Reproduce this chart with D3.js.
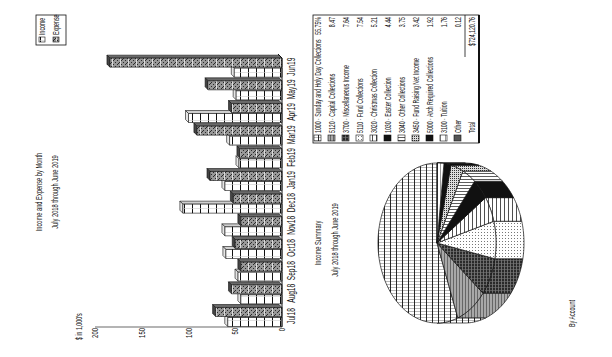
<!DOCTYPE html>
<html>
<head>
<meta charset="utf-8">
<script src="https://cdn.jsdelivr.net/npm/d3@7"></script>
<style>
  body { margin: 0; background: #fff; }
  svg { display: block; }
  text { font-family: "Liberation Sans", Arial, sans-serif; fill: #111; }
</style>
</head>
<body>
<div id="chart"></div>
<script>
// data (values in $1,000's)
const months = ['Jul18', 'Aug18', 'Sep18', 'Oct18', 'Nov18', 'Dec18', 'Jan19', 'Feb19', 'Mar19', 'Apr19', 'May19', 'Jun19'];
const income = [58, 44, 47, 60, 61, 106, 61, 46, 56, 100, 49, 51];
const expense = [71, 54, 44, 50, 44, 52, 77, 45, 91, 54, 79, 184];
const valueTicks = [0, 50, 100, 150, 200];

const accounts = [
   '1000 · Sunday and Holy Day Collections',
   '5120 · Capital Collections',
   '3700 · Miscellaneous Income',
   '5110 · Fund Collections',
   '3020 · Christmas Collection',
   '1030 · Easter Collection',
   '3040 · Other Collections',
   '3450 · Fund Raising Net Income',
   '5000 · Arch Required Collections',
   '3100 · Tuition',
   'Other'
];
const shares = [55.75, 8.47, 7.64, 7.54, 5.21, 4.44, 3.75, 3.42, 1.92, 1.76, 0.12];
const shareLabels = ['55.75%', '8.47', '7.64', '7.54', '5.21', '4.44', '3.75', '3.42', '1.92', '1.76', '0.12'];
const totalLabel = '$724,120.76';

// the page is printed sideways: draw it portrait (357 x 612) and turn it
const svg = d3.select('#chart').append('svg')
   .attr('width', 612)
   .attr('height', 357);

const defs = svg.append('defs');

function pattern(id, w, h, bg, draw) {
   const p = defs.append('pattern')
      .attr('id', id)
      .attr('patternUnits', 'userSpaceOnUse')
      .attr('width', w)
      .attr('height', h);
   p.append('rect').attr('width', w).attr('height', h).attr('fill', bg);
   draw(p);
}
function hline(p, y, w, c, sw) {
   p.append('line').attr('x1', 0).attr('x2', w).attr('y1', y).attr('y2', y).attr('stroke', c).attr('stroke-width', sw);
}
function vline(p, x, h, c, sw) {
   p.append('line').attr('x1', x).attr('x2', x).attr('y1', 0).attr('y2', h).attr('stroke', c).attr('stroke-width', sw);
}
function dot(p, x, y, c) {
   p.append('rect').attr('x', x).attr('y', y).attr('width', 1).attr('height', 1).attr('fill', c);
}

pattern('pInc', 8, 8, '#fff', p => { hline(p, 0.5, 8, '#111', 1); vline(p, 4.5, 8, '#ccc', 0.6); });
pattern('pExp', 8, 8, '#989898', p => {
   [[0,1],[2,3],[4,1],[6,3],[0,5],[2,7],[4,5],[6,7],[1,2],[5,6]].forEach(d => dot(p, d[0], d[1], '#2a2a2a'));
   hline(p, 0.5, 8, '#dcdcdc', 1);
});
pattern('pGrid', 3, 6, '#fff', p => { vline(p, 0.5, 6, '#999', 0.7); hline(p, 0.5, 3, '#111', 0.9); });
pattern('pGray', 3, 3, '#a8a8a8', p => { hline(p, 0.5, 3, '#555', 0.8); });
pattern('pDark', 3, 3, '#2a2a2a', p => { hline(p, 0.5, 3, '#999', 0.6); vline(p, 0.5, 3, '#777', 0.6); });
pattern('pDotW', 3, 3, '#fff', p => { dot(p, 1, 1, '#777'); });
pattern('pLineH', 4, 4, '#fff', p => { hline(p, 0.5, 4, '#222', 0.8); });
pattern('pLineV', 3, 3, '#fff', p => { vline(p, 0.5, 3, '#333', 0.8); });
pattern('pDotB', 2, 2, '#ddd', p => { dot(p, 0, 0, '#333'); });
pattern('pWhite', 5, 5, '#fff', p => { hline(p, 0.5, 5, '#555', 0.6); });

const fills = ['url(#pGrid)', 'url(#pGray)', 'url(#pDark)', 'url(#pDotW)', 'url(#pLineH)', '#111',
   'url(#pLineV)', 'url(#pDotB)', '#111', 'url(#pWhite)', '#555'];

const page = svg.append('g').attr('transform', 'translate(0,357) rotate(-90)');

const SX = 0.6;
function label(sel, x, y, s, size, anchor, sx) {
   return sel.append('text')
      .attr('transform', `translate(${x},${y}) scale(${sx || SX},1)`)
      .attr('text-anchor', anchor || 'start')
      .attr('font-size', size)
      .text(s);
}

// ---------- Income and Expense by Month ----------
label(page, 165, 42, 'Income and Expense by Month', 9.5, 'middle');
label(page, 165, 58, 'July 2018 through June 2019', 9.5, 'middle');

const x = d3.scaleBand().domain(months).range([30, 302]);
const y = d3.scaleLinear().domain([0, 200]).range([282, 95]);

page.append('line')
   .attr('x1', 30).attr('x2', 30)
   .attr('y1', y(0)).attr('y2', y(200))
   .attr('stroke', '#b4b4b4').attr('stroke-width', 2);

valueTicks.forEach(t => {
   label(page, 29, y(t) + 3, t, 8.5, 'end', 0.7);
});
label(page, 17, 82, "$ in 1,000's", 8.5, 'start', 0.62);

const bw = 9, dx = 3, dz = -3;
const bars = page.append('g').attr('stroke', '#111').attr('stroke-width', 0.6).attr('stroke-linejoin', 'round');

function bar3d(x0, v, front, top, side) {
   const yt = y(v), yb = y(0);
   bars.append('path')
      .attr('d', `M${x0 + bw},${yt}L${x0 + bw + dx},${yt + dz}L${x0 + bw + dx},${yb + dz}L${x0 + bw},${yb}Z`)
      .attr('fill', side);
   bars.append('path')
      .attr('d', `M${x0},${yt}L${x0 + dx},${yt + dz}L${x0 + bw + dx},${yt + dz}L${x0 + bw},${yt}Z`)
      .attr('fill', top);
   bars.append('rect')
      .attr('x', x0).attr('y', yt)
      .attr('width', bw).attr('height', yb - yt)
      .attr('fill', front);
}

months.forEach((m, i) => {
   bar3d(x(m) + 0.5, income[i], 'url(#pInc)', '#e6e6e6', '#cfcfcf');
   bar3d(x(m) + 10.5, expense[i], 'url(#pExp)', '#444', '#6a6a6a');
});

page.append('path')
   .attr('d', `M30,${y(0)}L299,${y(0)}L303,${y(0) - 4}`)
   .attr('fill', 'none').attr('stroke', '#111').attr('stroke-width', 1);

months.forEach(m => {
   label(page, x(m) + 11, 295, m, 11, 'middle', 0.6);
});

// legend of the bar chart
const lg = page.append('g');
lg.append('rect').attr('x', 312).attr('y', 36).attr('width', 30).attr('height', 30)
   .attr('fill', '#fff').attr('stroke', '#111').attr('stroke-width', 0.8);
[['Income', 'url(#pInc)'], ['Expense', 'url(#pExp)']].forEach((d, i) => {
   lg.append('rect').attr('x', 315).attr('y', 39 + i * 14).attr('width', 5).attr('height', 6)
      .attr('fill', d[1]).attr('stroke', '#111').attr('stroke-width', 0.6);
   label(lg, 322, 45 + i * 14, d[0], 8.5, 'start', 0.62);
});

// ---------- Income Summary ----------
label(page, 114, 321, 'Income Summary', 9.5, 'middle');
label(page, 117, 338, 'July 2018 through June 2019', 9.5, 'middle');

const pcx = 114, pcy = 437, prx = 80, pry = 59, depth = 28;
function ell(a, off) {
   return [pcx + prx * Math.sin(a), pcy - pry * Math.cos(a) + (off || 0)];
}
function sweep(a0, a1, off) {
   const n = Math.max(2, Math.ceil(Math.abs(a0 - a1) / 0.03));
   return d3.range(n + 1).map(k => ell(a0 + (a1 - a0) * k / n, off));
}

const pie = d3.pie().value(d => d).sort(null)
   .startAngle(Math.PI / 2)
   .endAngle(Math.PI / 2 - 2 * Math.PI);
const arcs = pie(shares);
const line = d3.line();
const pg = page.append('g').attr('stroke', '#111').attr('stroke-width', 0.7).attr('stroke-linejoin', 'round');

// side wall of the front half
const frontA = -Math.PI / 2, frontB = -3 * Math.PI / 2;
arcs.forEach((a, i) => {
   const b0 = Math.min(a.startAngle, frontA), b1 = Math.max(a.endAngle, frontB);
   if (b0 <= b1) return;
   const pts = sweep(b0, b1, 0).concat(sweep(b1, b0, depth));
   pg.append('path').attr('d', line(pts) + 'Z').attr('fill', fills[i]);
});
// top face
arcs.forEach((a, i) => {
   const pts = [[pcx, pcy]].concat(sweep(a.startAngle, a.endAngle, 0));
   pg.append('path').attr('d', line(pts) + 'Z').attr('fill', fills[i]);
});

// legend table
const tb = page.append('g');
tb.append('rect').attr('x', 214).attr('y', 313).attr('width', 128).attr('height', 166)
   .attr('fill', '#fff').attr('stroke', '#111').attr('stroke-width', 0.8);
tb.append('line').attr('x1', 214).attr('x2', 342).attr('y1', 479).attr('y2', 479)
   .attr('stroke', '#111').attr('stroke-width', 2);
tb.append('line').attr('x1', 300).attr('x2', 342).attr('y1', 465).attr('y2', 465)
   .attr('stroke', '#111').attr('stroke-width', 0.8);
accounts.forEach((name, i) => {
   const by = 321 + i * 14;
   tb.append('rect').attr('x', 216).attr('y', by - 7).attr('width', 6).attr('height', 7)
      .attr('fill', fills[i]).attr('stroke', '#111').attr('stroke-width', 0.6);
   label(tb, 224, by, name, 9, 'start', 0.58);
   label(tb, 340, by, shareLabels[i], 9, 'end', 0.58);
});
label(tb, 224, 475, 'Total', 9, 'start', 0.58);
label(tb, 340, 475, totalLabel, 9, 'end', 0.58);

label(page, 30, 575, 'By Account', 9, 'start', 0.6);
</script>
</body>
</html>
